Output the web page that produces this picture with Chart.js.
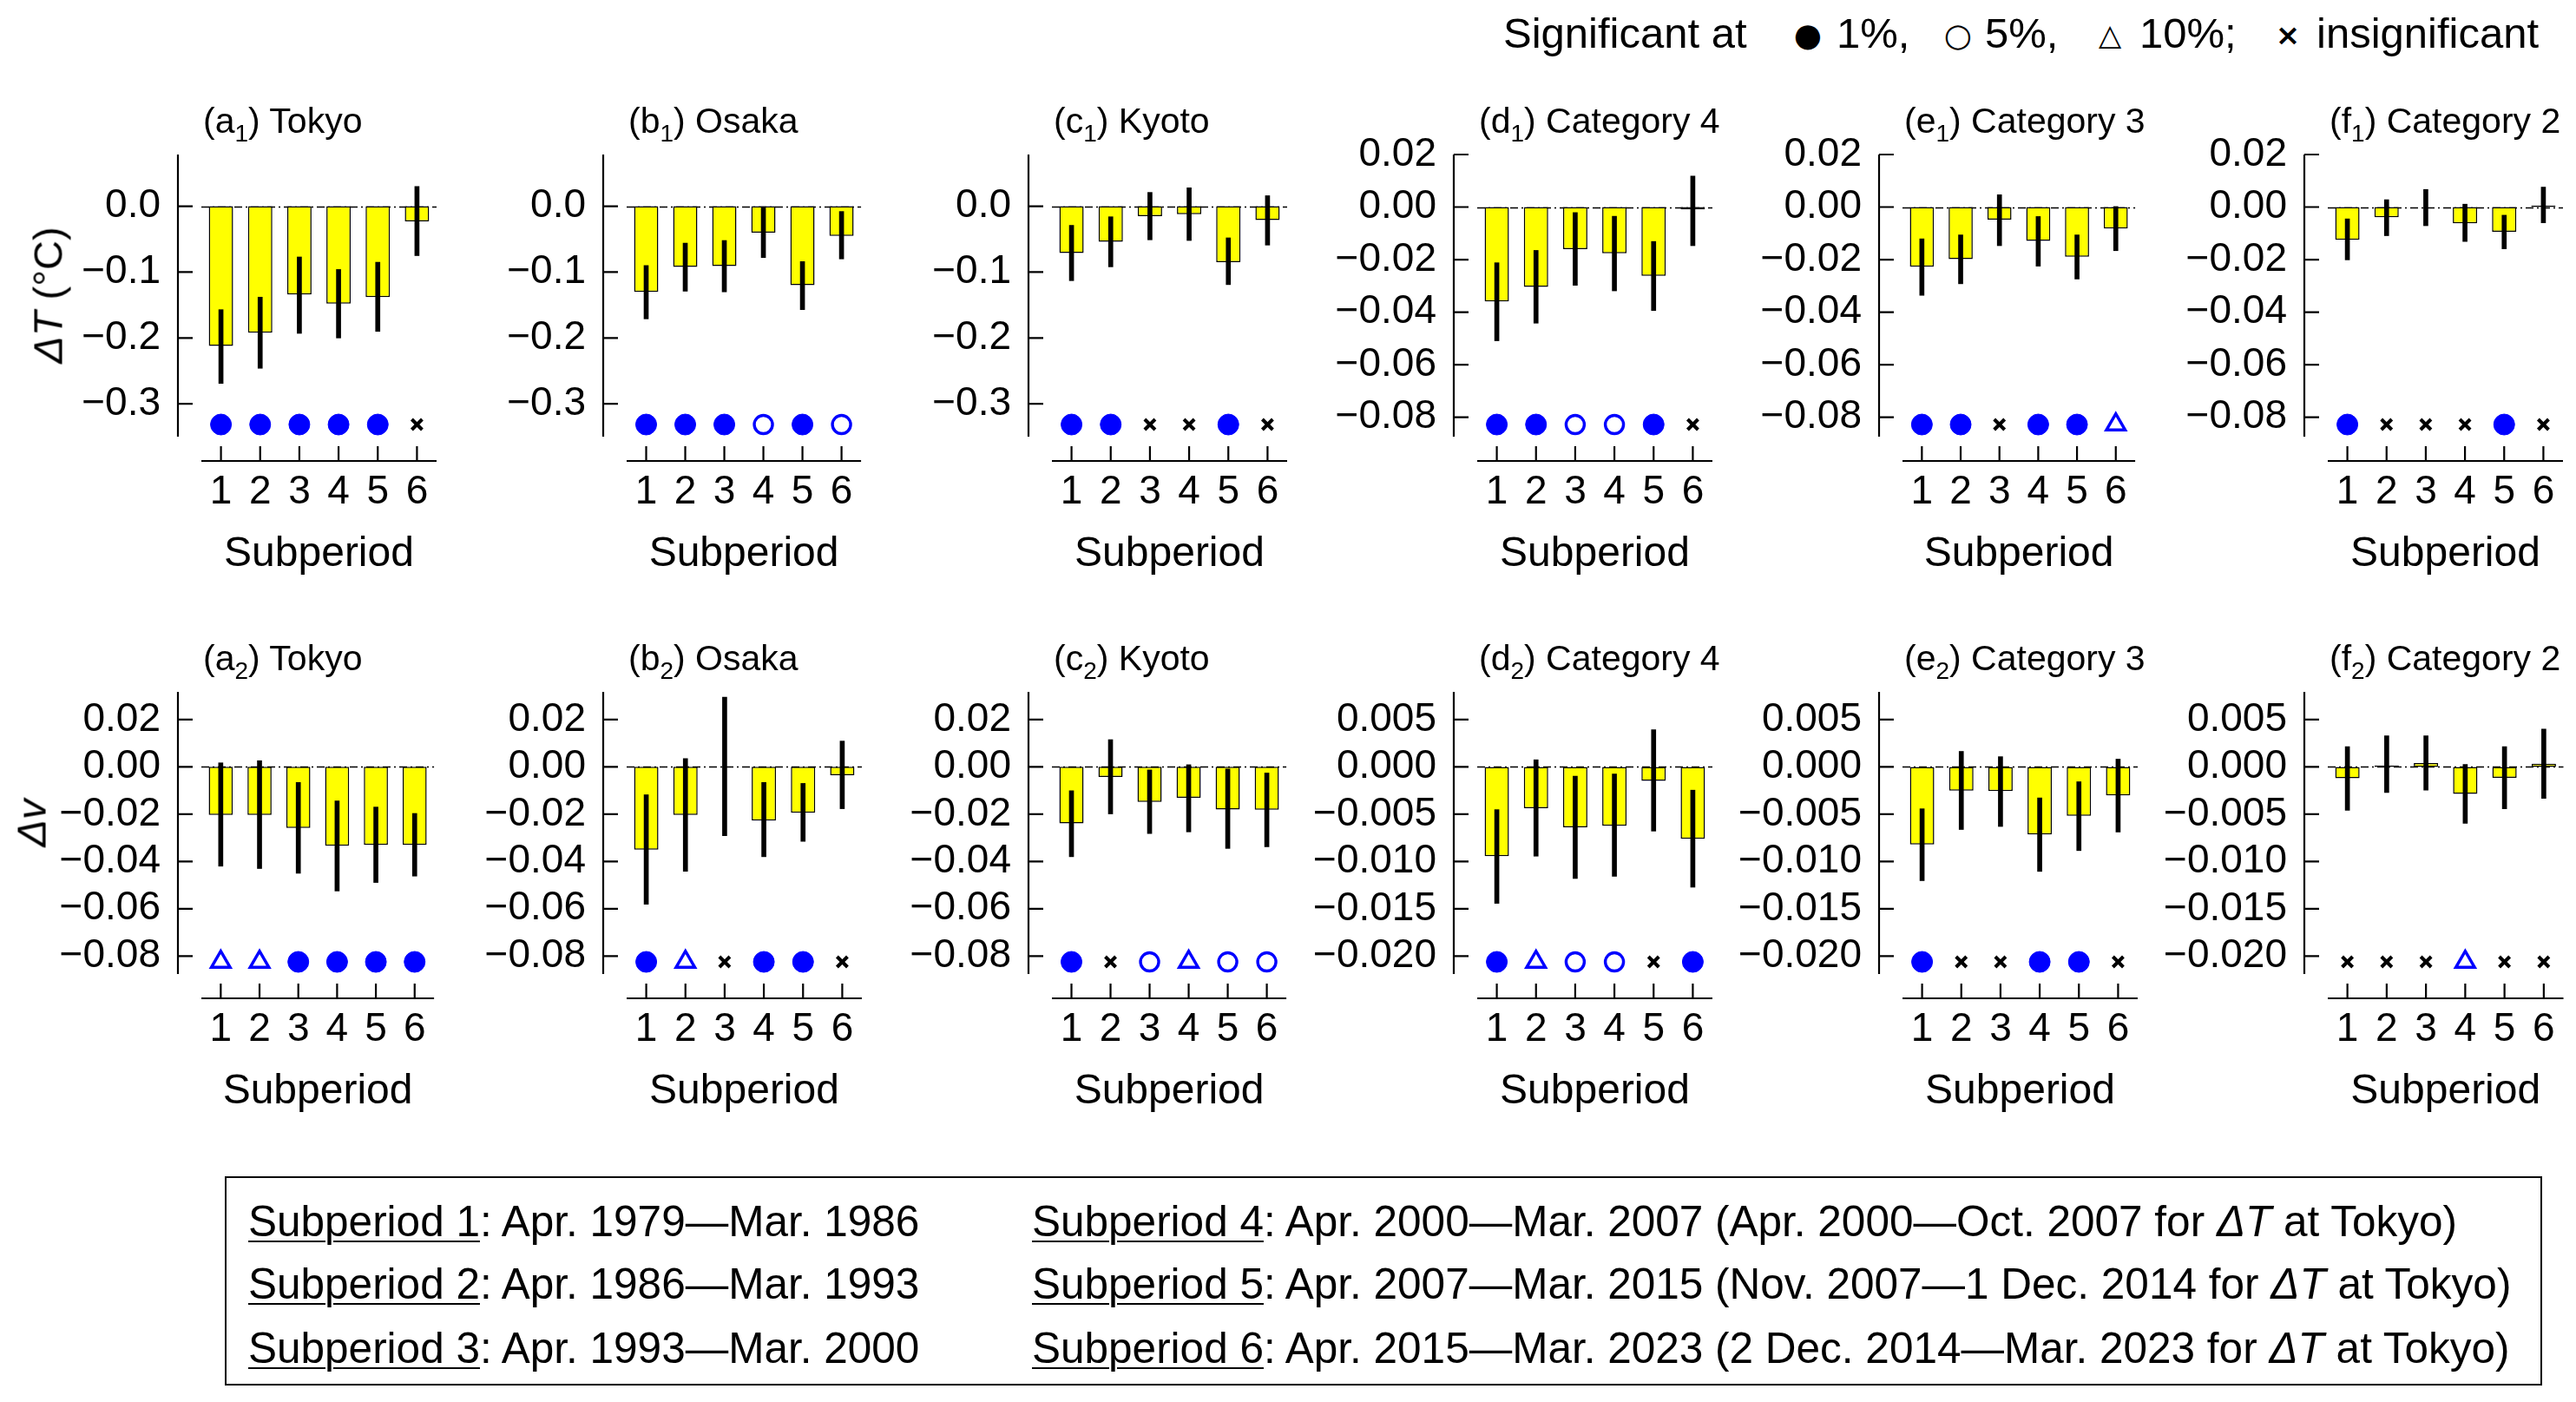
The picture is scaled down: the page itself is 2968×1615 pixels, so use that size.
<!DOCTYPE html>
<html><head><meta charset="utf-8">
<script src="https://cdn.jsdelivr.net/npm/chart.js@4.4.1/dist/chart.umd.min.js"></script>
<style>
html,body{margin:0;padding:0;background:#fff;}
#stage{position:relative;width:2968px;height:1615px;overflow:hidden;font-family:'Liberation Sans',Arial,sans-serif;color:#000;background:#fff;}
#stage canvas{position:absolute;}
.ptitle{position:absolute;font-size:41px;line-height:41px;white-space:nowrap;}
.ptitle .sb{font-size:28px;position:relative;top:10px;}
.ylab{position:absolute;font-size:47px;line-height:47px;white-space:nowrap;transform:translate(-50%,-50%) rotate(-90deg);}
.leg{position:absolute;top:14px;font-size:49px;line-height:49px;white-space:nowrap;}
.sym{position:absolute;font-family:'DejaVu Sans',sans-serif;line-height:1;transform:translate(-50%,-50%);}
#box{position:absolute;left:259px;top:1355px;width:2670px;height:241px;border:2.5px solid #000;box-sizing:border-box;}
.bl{position:absolute;font-size:49.5px;line-height:49px;white-space:nowrap;}
.bl u{text-decoration-thickness:2px;text-underline-offset:5px;}
</style></head>
<body><div id="stage"></div>
<script>
// ---------------- DATA ----------------
const categories = ['1','2','3','4','5','6'];

// y-axis tick labels
const ticksT_city = [0.0, -0.1, -0.2, -0.3];
const ticksT_cat  = [0.02, 0.00, -0.02, -0.04, -0.06, -0.08];
const ticksV_city = [0.02, 0.00, -0.02, -0.04, -0.06, -0.08];
const ticksV_cat  = [0.005, 0.000, -0.005, -0.010, -0.015, -0.020];

// significance codes: '1' = 1%, '5' = 5%, '10' = 10%, 'n' = insignificant
// (a1) Tokyo  dT
const dT_Tokyo    = [-0.212, -0.192, -0.134, -0.148, -0.138, -0.023];
const dT_Tokyo_hi = [-0.157, -0.138, -0.077, -0.096, -0.085,  0.030];
const dT_Tokyo_lo = [-0.269, -0.246, -0.193, -0.200, -0.190, -0.075];
const dT_Tokyo_sig = ['1','1','1','1','1','n'];
// (b1) Osaka dT
const dT_Osaka    = [-0.130, -0.092, -0.091, -0.040, -0.120, -0.045];
const dT_Osaka_hi = [-0.090, -0.056, -0.052, -0.001, -0.084, -0.008];
const dT_Osaka_lo = [-0.171, -0.129, -0.130, -0.078, -0.157, -0.080];
const dT_Osaka_sig = ['1','1','1','5','1','5'];
// (c1) Kyoto dT
const dT_Kyoto    = [-0.071, -0.054, -0.015, -0.012, -0.085, -0.021];
const dT_Kyoto_hi = [-0.029, -0.016,  0.021,  0.028, -0.048,  0.016];
const dT_Kyoto_lo = [-0.113, -0.092, -0.051, -0.052, -0.119, -0.059];
const dT_Kyoto_sig = ['1','1','n','n','1','n'];
// (d1) Category 4 dT
const dT_Cat4    = [-0.0359, -0.0304, -0.0160, -0.0176, -0.0262, -0.0009];
const dT_Cat4_hi = [-0.0212, -0.0165, -0.0021, -0.0035, -0.0131,  0.0118];
const dT_Cat4_lo = [-0.0509, -0.0442, -0.0298, -0.0319, -0.0394, -0.0147];
const dT_Cat4_sig = ['1','1','5','5','1','n'];
// (e1) Category 3 dT
const dT_Cat3    = [-0.0227, -0.0198, -0.0048, -0.0129, -0.0189, -0.0082];
const dT_Cat3_hi = [-0.0121, -0.0106,  0.0047, -0.0036, -0.0106,  0.0002];
const dT_Cat3_lo = [-0.0336, -0.0292, -0.0147, -0.0225, -0.0274, -0.0166];
const dT_Cat3_sig = ['1','1','n','1','1','10'];
// (f1) Category 2 dT
const dT_Cat2    = [-0.0125, -0.0039,  0.0000, -0.0062, -0.0094,  0.0006];
const dT_Cat2_hi = [-0.0045,  0.0028,  0.0067,  0.0011, -0.0031,  0.0076];
const dT_Cat2_lo = [-0.0201, -0.0109, -0.0071, -0.0131, -0.0159, -0.0060];
const dT_Cat2_sig = ['1','n','n','n','1','n'];
// (a2) Tokyo dv
const dv_Tokyo    = [-0.0203, -0.0203, -0.0258, -0.0334, -0.0330, -0.0330];
const dv_Tokyo_hi = [ 0.0017,  0.0026, -0.0066, -0.0144, -0.0170, -0.0197];
const dv_Tokyo_lo = [-0.0420, -0.0430, -0.0450, -0.0525, -0.0489, -0.0462];
const dv_Tokyo_sig = ['10','10','1','1','1','1'];
// (b2) Osaka dv
const dv_Osaka    = [-0.0350, -0.0203,  0.0000, -0.0227, -0.0194, -0.0035];
const dv_Osaka_hi = [-0.0118,  0.0035,  0.0295, -0.0066, -0.0070,  0.0109];
const dv_Osaka_lo = [-0.0581, -0.0442, -0.0291, -0.0380, -0.0315, -0.0177];
const dv_Osaka_sig = ['1','10','n','1','1','n'];
// (c2) Kyoto dv
const dv_Kyoto    = [-0.0239, -0.0043, -0.0148, -0.0131, -0.0180, -0.0181];
const dv_Kyoto_hi = [-0.0101,  0.0115, -0.0013,  0.0009, -0.0009, -0.0026];
const dv_Kyoto_lo = [-0.0380, -0.0199, -0.0282, -0.0275, -0.0345, -0.0338];
const dv_Kyoto_sig = ['1','n','5','10','5','5'];
// (d2) Category 4 dv
const dv_Cat4    = [-0.00944, -0.00436, -0.00639, -0.00623, -0.00148, -0.00761];
const dv_Cat4_hi = [-0.00452,  0.00075, -0.00098, -0.00075,  0.00393, -0.00246];
const dv_Cat4_lo = [-0.01443, -0.00944, -0.01180, -0.01157, -0.00679, -0.01272];
const dv_Cat4_sig = ['1','10','5','5','n','1'];
// (e2) Category 3 dv
const dv_Cat3    = [-0.00820, -0.00252, -0.00256, -0.00715, -0.00518, -0.00302];
const dv_Cat3_hi = [-0.00443,  0.00164,  0.00108, -0.00328, -0.00157,  0.00082];
const dv_Cat3_lo = [-0.01203, -0.00662, -0.00630, -0.01105, -0.00885, -0.00689];
const dv_Cat3_sig = ['1','n','n','1','1','n'];
// (f2) Category 2 dv
const dv_Cat2    = [-0.00121,  0.00016,  0.00040, -0.00285, -0.00115,  0.00033];
const dv_Cat2_hi = [ 0.00213,  0.00328,  0.00328,  0.00026,  0.00213,  0.00400];
const dv_Cat2_lo = [-0.00459, -0.00272, -0.00246, -0.00597, -0.00443, -0.00334];
const dv_Cat2_sig = ['n','n','n','10','n','n'];

// ---------------- PANELS ----------------
const panels = [
  {L:'a',S:'1',name:'Tokyo',      row:0,col:0,v:dT_Tokyo,hi:dT_Tokyo_hi,lo:dT_Tokyo_lo,sig:dT_Tokyo_sig,ticks:ticksT_city,dec:1,min:-0.3498,max:0.0785},
  {L:'b',S:'1',name:'Osaka',      row:0,col:1,v:dT_Osaka,hi:dT_Osaka_hi,lo:dT_Osaka_lo,sig:dT_Osaka_sig,ticks:ticksT_city,dec:1,min:-0.3498,max:0.0785},
  {L:'c',S:'1',name:'Kyoto',      row:0,col:2,v:dT_Kyoto,hi:dT_Kyoto_hi,lo:dT_Kyoto_lo,sig:dT_Kyoto_sig,ticks:ticksT_city,dec:1,min:-0.3498,max:0.0785},
  {L:'d',S:'1',name:'Category 4', row:0,col:3,v:dT_Cat4,hi:dT_Cat4_hi,lo:dT_Cat4_lo,sig:dT_Cat4_sig,ticks:ticksT_cat,dec:2,min:-0.0874,max:0.0200},
  {L:'e',S:'1',name:'Category 3', row:0,col:4,v:dT_Cat3,hi:dT_Cat3_hi,lo:dT_Cat3_lo,sig:dT_Cat3_sig,ticks:ticksT_cat,dec:2,min:-0.0874,max:0.0200},
  {L:'f',S:'1',name:'Category 2', row:0,col:5,v:dT_Cat2,hi:dT_Cat2_hi,lo:dT_Cat2_lo,sig:dT_Cat2_sig,ticks:ticksT_cat,dec:2,min:-0.0874,max:0.0200},
  {L:'a',S:'2',name:'Tokyo',      row:1,col:0,v:dv_Tokyo,hi:dv_Tokyo_hi,lo:dv_Tokyo_lo,sig:dv_Tokyo_sig,ticks:ticksV_city,dec:2,min:-0.0876,max:0.0317},
  {L:'b',S:'2',name:'Osaka',      row:1,col:1,v:dv_Osaka,hi:dv_Osaka_hi,lo:dv_Osaka_lo,sig:dv_Osaka_sig,ticks:ticksV_city,dec:2,min:-0.0876,max:0.0317},
  {L:'c',S:'2',name:'Kyoto',      row:1,col:2,v:dv_Kyoto,hi:dv_Kyoto_hi,lo:dv_Kyoto_lo,sig:dv_Kyoto_sig,ticks:ticksV_city,dec:2,min:-0.0876,max:0.0317},
  {L:'d',S:'2',name:'Category 4', row:1,col:3,v:dv_Cat4,hi:dv_Cat4_hi,lo:dv_Cat4_lo,sig:dv_Cat4_sig,ticks:ticksV_cat,dec:3,min:-0.0219,max:0.00793},
  {L:'e',S:'2',name:'Category 3', row:1,col:4,v:dv_Cat3,hi:dv_Cat3_hi,lo:dv_Cat3_lo,sig:dv_Cat3_sig,ticks:ticksV_cat,dec:3,min:-0.0219,max:0.00793},
  {L:'f',S:'2',name:'Category 2', row:1,col:5,v:dv_Cat2,hi:dv_Cat2_hi,lo:dv_Cat2_lo,sig:dv_Cat2_sig,ticks:ticksV_cat,dec:3,min:-0.0219,max:0.00793}
];

// ---------------- LAYOUT / STYLE ----------------
const colLeft = [232, 722, 1212, 1702, 2192, 2682];
const rowTop = [178, 797];
const plotW = 272, plotH = 325;
const yAxisW = 200, xAxisH = 165, padTop = 40, padRight = 12;
const FONT = "'Liberation Sans', Arial, sans-serif";
const BLUE = '#0000FF';
const sigStyle = {
  '1':  {style:'circle',   r:12,   bg:BLUE,   bc:BLUE,   bw:1},
  '5':  {style:'circle',   r:10.5, bg:'#fff', bc:BLUE,   bw:3.4},
  '10': {style:'triangle', r:12.5, bg:'#fff', bc:BLUE,   bw:3.4},
  'n':  {style:'crossRot', r:8.5,  bg:'#000', bc:'#000', bw:4}
};

Chart.defaults.font.family = FONT;
Chart.defaults.color = '#000';

const stage = document.getElementById('stage');

const panelAxes = {
  id: 'panelAxes',
  beforeDatasetsDraw(chart) {
    const {ctx, chartArea: a, scales: {y}} = chart;
    const y0 = Math.round(y.getPixelForValue(0)) + 0.5;
    ctx.save();
    ctx.strokeStyle = '#000'; ctx.lineWidth = 1.6; ctx.setLineDash([9, 4, 2, 4]);
    ctx.beginPath(); ctx.moveTo(a.left, y0); ctx.lineTo(a.right, y0); ctx.stroke();
    ctx.restore();
  },
  afterDraw(chart) {
    const {ctx, chartArea: a, scales: {x, y}} = chart;
    const ax = a.left - 27;
    const ay = a.bottom + 28;
    ctx.save();
    ctx.strokeStyle = '#000'; ctx.lineWidth = 2.2; ctx.lineCap = 'butt';
    ctx.beginPath();
    ctx.moveTo(ax, a.top); ctx.lineTo(ax, a.bottom);
    y.ticks.forEach(t => { const py = y.getPixelForValue(t.value); ctx.moveTo(ax, py); ctx.lineTo(ax + 17, py); });
    ctx.moveTo(a.left, ay); ctx.lineTo(a.right, ay);
    x.ticks.forEach((t, i) => { const px = x.getPixelForTick(i); ctx.moveTo(px, ay); ctx.lineTo(px, ay - 17); });
    ctx.stroke();
    ctx.restore();
  }
};

function fmt(v, dec) {
  let s = Math.abs(v) < 1e-12 ? (0).toFixed(dec) : v.toFixed(dec);
  return s.replace('-', '\u2212');
}

panels.forEach(p => {
  const left = colLeft[p.col] - yAxisW;
  const top = rowTop[p.row] - padTop;
  const W = yAxisW + plotW + padRight, H = padTop + plotH + xAxisH;
  const cv = document.createElement('canvas');
  cv.width = W; cv.height = H;
  cv.style.left = left + 'px'; cv.style.top = top + 'px';
  cv.style.width = W + 'px'; cv.style.height = H + 'px';
  stage.appendChild(cv);

  const title = document.createElement('div');
  title.className = 'ptitle';
  title.style.left = (colLeft[p.col] + 2) + 'px';
  title.style.top = (rowTop[p.row] - 59) + 'px';
  title.innerHTML = '(' + p.L + '<span class="sb">' + p.S + '</span>) ' + p.name;
  stage.appendChild(title);

  const markerLevel = p.min + 0.043 * (p.max - p.min);
  const st = p.sig.map(s => sigStyle[s]);

  new Chart(cv, {
    type: 'bar',
    data: {
      labels: categories,
      datasets: [
        { type: 'line', data: categories.map(() => markerLevel), showLine: false, order: 0,
          pointStyle: st.map(s => s.style), pointRadius: st.map(s => s.r),
          pointBackgroundColor: st.map(s => s.bg), pointBorderColor: st.map(s => s.bc),
          pointBorderWidth: st.map(s => s.bw), clip: false },
        { type: 'bar', data: p.lo.map((l, i) => [l, p.hi[i]]), order: 1, grouped: false,
          backgroundColor: '#000', borderWidth: 0, barThickness: 5 },
        { type: 'bar', data: p.v, order: 2, grouped: false,
          backgroundColor: '#FFFF00', borderColor: '#000', borderWidth: 1.5, borderSkipped: false,
          barPercentage: 0.62, categoryPercentage: 1.0 }
      ]
    },
    options: {
      responsive: false, animation: false, events: [],
      layout: { padding: { top: padTop, right: padRight, left: 0, bottom: 0 } },
      plugins: { legend: { display: false }, tooltip: { enabled: false }, title: { display: false } },
      scales: {
        x: {
          type: 'category', offset: true,
          grid: { display: false, drawTicks: false }, border: { display: false },
          ticks: { font: { size: 46 }, color: '#000', padding: 37, maxRotation: 0, minRotation: 0, autoSkip: false },
          title: { display: true, text: 'Subperiod', font: { size: 48 }, color: '#000', padding: { top: 0, bottom: 0 } },
          afterFit: s => { s.height = xAxisH; s.paddingLeft = 0; s.paddingRight = 0; }
        },
        y: {
          type: 'linear', min: p.min, max: p.max,
          grid: { display: false, drawTicks: false }, border: { display: false },
          afterBuildTicks: s => { s.ticks = p.ticks.map(v => ({ value: v })); },
          ticks: { font: { size: 46 }, color: '#000', padding: 47, autoSkip: false,
                   callback: v => fmt(v, p.dec) },
          afterFit: s => { s.width = yAxisW; s.paddingTop = 0; s.paddingBottom = 0; }
        }
      }
    },
    plugins: [panelAxes]
  });
});

// y-axis titles
function addDiv(cls, html, css) {
  const d = document.createElement('div');
  d.className = cls; d.innerHTML = html;
  Object.assign(d.style, css);
  stage.appendChild(d);
  return d;
}
addDiv('ylab', '<i>\u0394T</i> (\u00B0C)', { left: '55px', top: '340px' });
addDiv('ylab', '<i>\u0394v</i>', { left: '36px', top: '948px' });

// top legend
addDiv('leg', 'Significant at', { left: '1732px' });
addDiv('sym', '\u25CF', { left: '2083px', top: '40px', fontSize: '37px' });
addDiv('leg', '1%,', { left: '2116px' });
addDiv('sym', '\u25CB', { left: '2256px', top: '40px', fontSize: '37px' });
addDiv('leg', '5%,', { left: '2287px' });
addDiv('sym', '\u25B3', { left: '2431px', top: '40px', fontSize: '34px' });
addDiv('leg', '10%;', { left: '2465px' });
addDiv('sym', '\u00D7', { left: '2636px', top: '40px', fontSize: '34px', fontWeight: 'bold' });
addDiv('leg', 'insignificant', { left: '2669px' });

// bottom box
addDiv('', '', {}).id = 'box';
const boxLines = [
  ['286px', '1382px', '<u>Subperiod 1</u>: Apr. 1979\u2014Mar. 1986'],
  ['286px', '1454px', '<u>Subperiod 2</u>: Apr. 1986\u2014Mar. 1993'],
  ['286px', '1528px', '<u>Subperiod 3</u>: Apr. 1993\u2014Mar. 2000'],
  ['1189px', '1382px', '<u>Subperiod 4</u>: Apr. 2000\u2014Mar. 2007 (Apr. 2000\u2014Oct. 2007 for <i>\u0394T</i> at Tokyo)'],
  ['1189px', '1454px', '<u>Subperiod 5</u>: Apr. 2007\u2014Mar. 2015 (Nov. 2007\u20141 Dec. 2014 for <i>\u0394T</i> at Tokyo)'],
  ['1189px', '1528px', '<u>Subperiod 6</u>: Apr. 2015\u2014Mar. 2023 (2 Dec. 2014\u2014Mar. 2023 for <i>\u0394T</i> at Tokyo)']
];
boxLines.forEach(b => addDiv('bl', b[2], { left: b[0], top: b[1] }));
</script>
</body></html>
